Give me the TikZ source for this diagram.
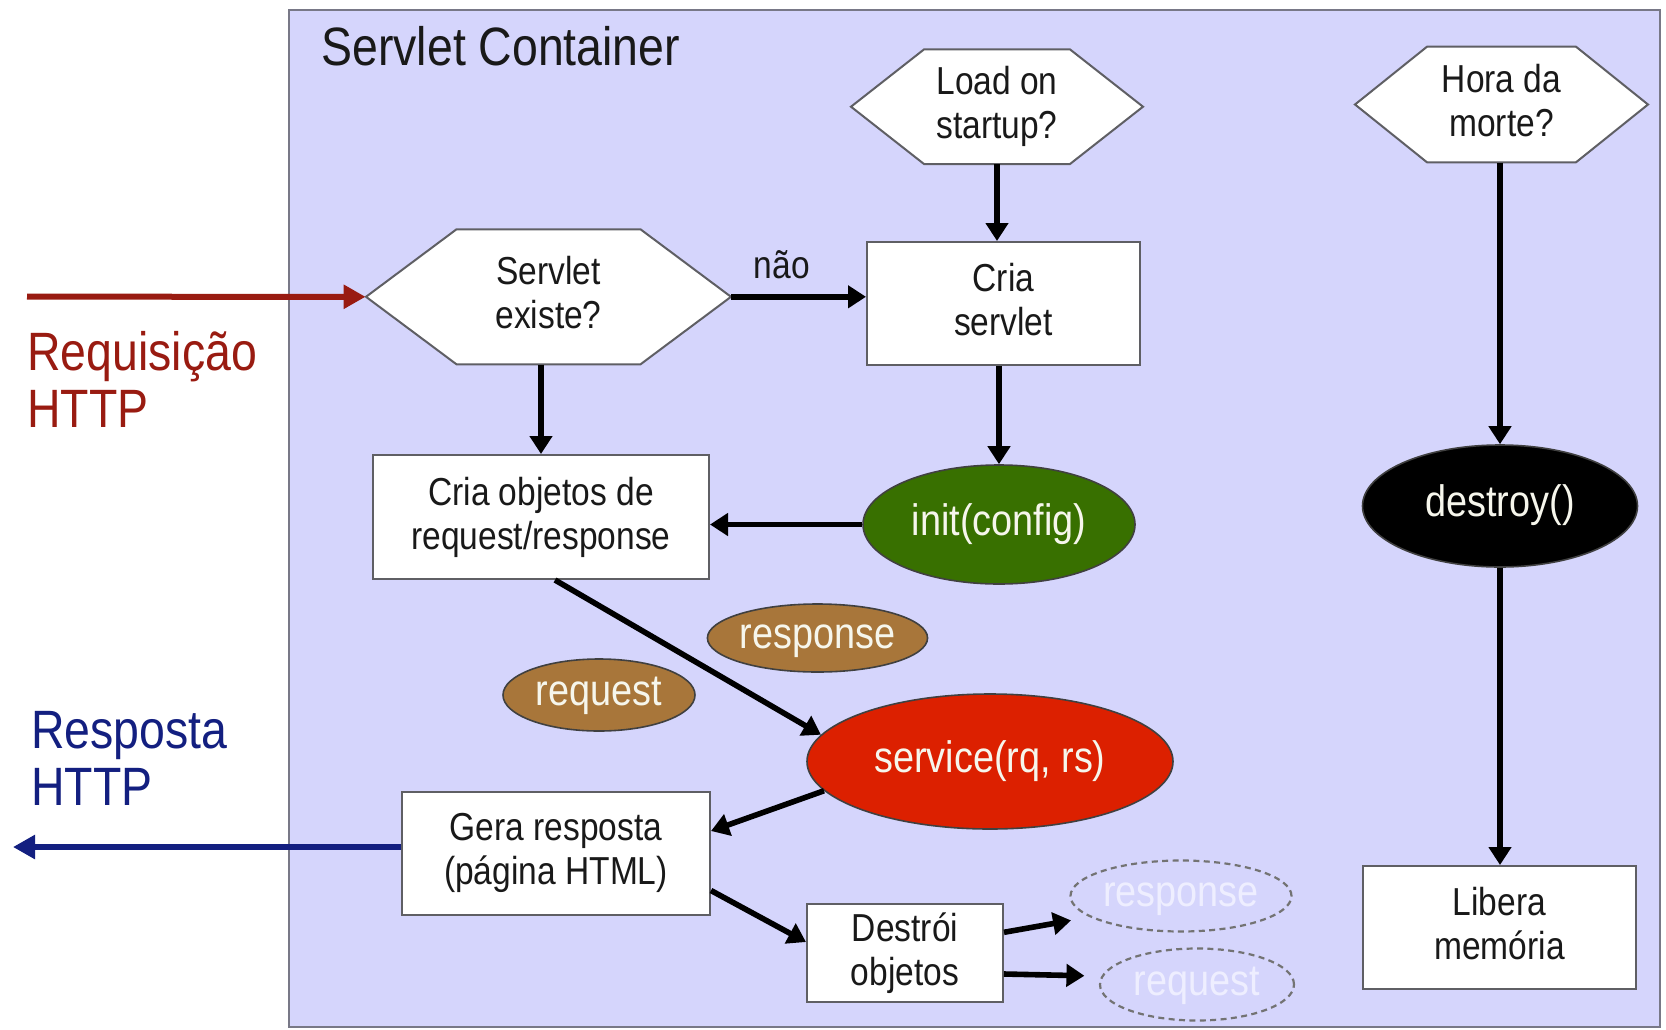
\documentclass[tikz,border=0pt]{standalone}
\usepackage{fontspec}
\setmainfont{Liberation Sans}[FakeStretch=0.86]
\usetikzlibrary{arrows.meta,shapes.geometric}
\definecolor{lav}{RGB}{213,213,252}
\definecolor{contborder}{RGB}{120,120,135}
\definecolor{boxborder}{RGB}{95,95,100}
\definecolor{txtdark}{RGB}{25,25,25}
\definecolor{initgreen}{RGB}{56,112,0}
\definecolor{servred}{RGB}{220,32,0}
\definecolor{objbrown}{RGB}{168,118,58}
\definecolor{reqred}{RGB}{153,27,17}
\definecolor{respnavy}{RGB}{19,31,128}
\definecolor{ghosttext}{RGB}{238,238,255}
\definecolor{ovaltext}{RGB}{246,246,236}
\newcommand\boxfont{\fontsize{19.5pt}{22pt}\selectfont}
\newcommand\ovalfont{\fontsize{22pt}{24pt}\selectfont}
\newcommand\bigfont{\fontsize{27pt}{28.5pt}\selectfont}
\newcommand\ds{\rule[-0.212em]{0pt}{0pt}}
% hexagon outline: cx, cy, half width, half height, point depth (all in px)
\newcommand\hexoutline[5]{%
  \filldraw[hexline] ({#1-#3},{#2}) -- ({#1-#3+#5},{#2-#4}) -- ({#1+#3-#5},{#2-#4})
    -- ({#1+#3},{#2}) -- ({#1+#3-#5},{#2+#4}) -- ({#1-#3+#5},{#2+#4}) -- cycle;}
\begin{document}
\begin{tikzpicture}[x=0.5pt,y=-0.5pt,
  hexline/.style={draw=boxborder,fill=white,line width=1pt},
  hextext/.style={inner sep=0pt,align=center,font=\boxfont,text=txtdark},
  stepbox/.style={draw=boxborder,fill=white,line width=1pt,inner sep=0pt,
    align=center,font=\boxfont,text=txtdark},
  oval/.style={ellipse,draw=black!75,line width=0.8pt,inner sep=0pt,
    font=\ovalfont,text=ovaltext,text height=15.5pt,text depth=5pt},
  ghost/.style={ellipse,draw=black!55,dash pattern=on 3pt off 2.2pt,line width=1.1pt,
    inner sep=0pt,font=\ovalfont,text=ghosttext,text height=15.5pt,text depth=5pt},
  flow/.style={line width=2.8pt,-{Triangle[length=9pt,width=11pt]}},
  bigtxt/.style={inner sep=0pt,align=left,font=\bigfont}]
\useasboundingbox (0,0) rectangle (1666,1029);
% container
\filldraw[fill=lav,draw=contborder,line width=1pt] (289,9.5) rectangle (1659.5,1027);
\node[anchor=base west,inner sep=0pt,font=\bigfont,text=txtdark] (title) at (321,65) {Servlet Container};
% hexagons
\hexoutline{548.5}{296.8}{182.5}{67.5}{90.5}
\node[hextext,minimum width=182.5pt,minimum height=67.5pt] (exist) at (548.5,296.8) {Servlet\\existe?\ds};
\hexoutline{997}{106.7}{146}{57.3}{73}
\node[hextext,minimum width=146pt,minimum height=57.3pt] (load) at (997,106.7) {Load on\\startup?\ds};
\hexoutline{1501.5}{104.5}{146.5}{57.8}{72}
\node[hextext,minimum width=146.5pt,minimum height=57.8pt] (hora) at (1501.5,104.5) {Hora da\\morte?\ds};
% boxes
\node[stepbox,minimum width=168pt,minimum height=62pt] (criaobj) at (541,517) {Cria objetos de\\request/response\ds};
\node[stepbox,minimum width=136.5pt,minimum height=61.5pt] (criaserv) at (1003.5,303.5) {Cria\\servlet\ds};
\node[stepbox,minimum width=154pt,minimum height=61.5pt] (gera) at (556,853.5) {Gera resposta\\(página HTML)\ds};
\node[stepbox,minimum width=98pt,minimum height=49pt] (destroi) at (905,953) {Destrói\\objetos\ds};
\node[stepbox,minimum width=136.5pt,minimum height=61.5pt] (libera) at (1499.5,927.5) {Libera\\memória\ds};
% ellipses
\node[oval,fill=initgreen,minimum width=136pt,minimum height=59.5pt] (init) at (999,524.5) {init(config)};
\node[oval,fill=servred,minimum width=183pt,minimum height=67.5pt] (service) at (990,761.5) {service(rq, rs)};
\node[oval,fill=black,minimum width=137.5pt,minimum height=61pt] (destroy) at (1500,506) {destroy()};
\node[oval,fill=objbrown,minimum width=96pt,minimum height=36pt] (reqB) at (599,695) {request};
\node[oval,fill=objbrown,minimum width=110pt,minimum height=34pt] (respB) at (817.5,638) {response};
\node[ghost,minimum width=110.5pt,minimum height=35.5pt] (respD) at (1181,896) {response};
\node[ghost,minimum width=97pt,minimum height=36pt] (reqD) at (1197,984.5) {request};
% outside labels (base anchor = baseline of the last line)
\node[bigtxt,anchor=base west,text=reqred] (reqlbl) at (27,427) {Requisição\\HTTP};
\node[bigtxt,anchor=base west,text=respnavy] (resplbl) at (31,805) {Resposta\\HTTP};
\coordinate (reqstart) at (27,296.7);
\coordinate (respend) at (13,847);
% connectors
\draw[line width=3pt,draw=reqred,-{Triangle[length=11pt,width=11.5pt]}] (reqstart) -- (exist.west);
\draw[line width=3pt,draw=respnavy,-{Triangle[length=11pt,width=11.5pt]}] ([yshift=3.25pt]gera.west) -- (respend);
\draw[flow] (criaobj.north |- exist.south) -- (criaobj.north);
\draw[flow] (exist.east) -- node[pos=0.375,anchor=base,yshift=9.3pt,inner sep=0pt,font=\boxfont,text=txtdark] (nao) {não} (exist.east -| criaserv.west);
\draw[flow] (load.south) -- (load.south |- criaserv.north);
\draw[flow] (init.north |- criaserv.south) -- (init.north);
\draw[flow] (init.west) -- (init.west -| criaobj.east);
\draw[flow] (destroy.north |- hora.south) -- (destroy.north);
\draw[flow] (destroy.south) -- (destroy.south |- libera.north);
\draw[flow] ([xshift=7pt]criaobj.south) -- (service.171);
\draw[flow] (service.190) -- ([yshift=11.25pt]gera.east);
\draw[flow] ([yshift=-18.5pt]gera.east) -- ([yshift=5.5pt]destroi.west);
\draw[flow,shorten >=9.5pt] ([yshift=10.35pt]destroi.east) -- (respD.193);
\draw[flow,shorten >=8.5pt] ([yshift=-10.5pt]destroi.east) -- (reqD.175);
\end{tikzpicture}
\end{document}
